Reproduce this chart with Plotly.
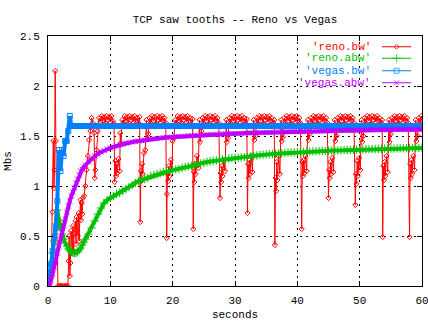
import plotly.graph_objects as go

# ---------------- data ----------------
# sample times (s) for the averaged series and vegas.bw
t_avg = [0, 0.25, 0.5, 0.75, 1, 1.25, 1.5, 1.75, 2, 2.25, 2.5, 2.75, 3, 3.25, 3.5, 3.75,
         4, 4.25, 4.5, 4.75, 5, 5.25, 5.5, 5.75, 6,
         6.5, 7, 7.5, 8, 8.5, 9, 9.5, 10, 10.5, 11, 11.5, 12, 12.5, 13, 13.5, 14, 14.5,
         15, 15.5, 16, 16.5, 17, 17.5, 18, 18.5, 19, 19.5, 20, 20.5, 21, 21.5, 22, 22.5,
         23, 23.5, 24, 24.5, 25, 25.5, 26, 26.5, 27, 27.5, 28, 28.5, 29, 29.5, 30, 30.5,
         31, 31.5, 32, 32.5, 33, 33.5, 34, 34.5, 35, 35.5, 36, 36.5, 37, 37.5, 38, 38.5,
         39, 39.5, 40, 40.5, 41, 41.5, 42, 42.5, 43, 43.5, 44, 44.5, 45, 45.5, 46, 46.5,
         47, 47.5, 48, 48.5, 49, 49.5, 50, 50.5, 51, 51.5, 52, 52.5, 53, 53.5, 54, 54.5,
         55, 55.5, 56, 56.5, 57, 57.5, 58, 58.5, 59, 59.5, 60]

reno_abw = [0, 0.08, 0.2, 0.33, 0.45, 0.62, 0.76, 0.66, 0.58, 0.52, 0.47, 0.43, 0.40, 0.37, 0.35, 0.34,
            0.33, 0.33, 0.33, 0.34, 0.36, 0.38, 0.41, 0.44, 0.47,
            0.52, 0.58, 0.65, 0.72, 0.78, 0.83, 0.86, 0.88, 0.90, 0.92, 0.93, 0.95, 0.97, 0.99, 1.01, 1.03, 1.05,
            1.06, 1.07, 1.08, 1.10, 1.11, 1.12, 1.13, 1.14, 1.15, 1.155, 1.16, 1.165, 1.17, 1.18, 1.19, 1.195,
            1.20, 1.21, 1.22, 1.225, 1.23, 1.24, 1.245, 1.25, 1.255, 1.26, 1.265, 1.27, 1.275, 1.28, 1.28, 1.283,
            1.286, 1.289, 1.29, 1.295, 1.30, 1.305, 1.31, 1.313, 1.316, 1.318, 1.32, 1.323, 1.325, 1.327, 1.33, 1.333,
            1.335, 1.337, 1.34, 1.341, 1.342, 1.344, 1.345, 1.346, 1.347, 1.349, 1.35, 1.351, 1.352, 1.354, 1.355, 1.356,
            1.357, 1.359, 1.36, 1.361, 1.362, 1.364, 1.365, 1.366, 1.367, 1.368, 1.37, 1.37, 1.371, 1.372, 1.373, 1.374,
            1.375, 1.375, 1.376, 1.377, 1.378, 1.378, 1.379, 1.38, 1.38, 1.38, 1.381]

vegas_abw = [0, 0.02, 0.06, 0.12, 0.19, 0.26, 0.33, 0.40, 0.47, 0.53, 0.60, 0.67, 0.74, 0.80, 0.85, 0.90,
             0.94, 0.98, 1.03, 1.07, 1.11, 1.15, 1.17, 1.19, 1.21,
             1.24, 1.27, 1.30, 1.32, 1.34, 1.355, 1.37, 1.38, 1.39, 1.40, 1.41, 1.42, 1.43, 1.435, 1.44, 1.445, 1.45,
             1.455, 1.46, 1.465, 1.47, 1.473, 1.476, 1.48, 1.483, 1.486, 1.488, 1.49, 1.493, 1.495, 1.497, 1.50, 1.502,
             1.504, 1.506, 1.508, 1.51, 1.512, 1.513, 1.515, 1.516, 1.518, 1.519, 1.52, 1.522, 1.523, 1.524, 1.525, 1.526,
             1.527, 1.528, 1.53, 1.531, 1.532, 1.533, 1.534, 1.535, 1.536, 1.537, 1.538, 1.539, 1.54, 1.541, 1.542, 1.543,
             1.544, 1.544, 1.545, 1.546, 1.547, 1.547, 1.548, 1.549, 1.55, 1.55, 1.551, 1.552, 1.552, 1.553, 1.554, 1.554,
             1.555, 1.556, 1.556, 1.557, 1.557, 1.558, 1.558, 1.559, 1.559, 1.56, 1.56, 1.561, 1.561, 1.562, 1.562, 1.562,
             1.563, 1.563, 1.564, 1.564, 1.564, 1.565, 1.565, 1.565, 1.566, 1.566, 1.566]

vegas_bw = [0, 0.10, 0.22, 0.35, 0.49, 0.58, 0.85, 1.36, 1.15, 1.36, 1.30, 1.45, 1.45, 1.55, 1.70, 1.60,
            1.60, 1.60, 1.60, 1.60, 1.60, 1.60, 1.60, 1.60, 1.60,
            1.6, 1.6, 1.6, 1.6, 1.6, 1.6, 1.6, 1.6, 1.6, 1.6, 1.6, 1.6, 1.6, 1.6, 1.6, 1.6, 1.6,
            1.6, 1.6, 1.6, 1.6, 1.6, 1.6, 1.6, 1.6, 1.6, 1.6, 1.6, 1.6, 1.6, 1.6, 1.6, 1.6,
            1.6, 1.6, 1.6, 1.6, 1.6, 1.6, 1.6, 1.6, 1.6, 1.6, 1.6, 1.6, 1.6, 1.6, 1.6, 1.6,
            1.6, 1.6, 1.6, 1.6, 1.6, 1.6, 1.6, 1.6, 1.6, 1.6, 1.6, 1.6, 1.6, 1.6, 1.6, 1.6,
            1.6, 1.6, 1.6, 1.6, 1.6, 1.6, 1.6, 1.6, 1.6, 1.6, 1.6, 1.6, 1.6, 1.6, 1.6, 1.6,
            1.6, 1.6, 1.6, 1.6, 1.6, 1.6, 1.6, 1.6, 1.6, 1.6, 1.6, 1.6, 1.6, 1.6, 1.6, 1.6,
            1.6, 1.6, 1.6, 1.6, 1.6, 1.6, 1.6, 1.6, 1.6, 1.6, 1.6]

# reno.bw: sample times and values (sawtooth)
reno_t = [
    0.0, 0.3, 0.5, 0.7, 0.85, 0.95, 1.05, 1.15, 1.25, 1.4, 1.6, 1.8, 2.0, 2.2, 2.4, 2.6, 2.8, 3.0, 3.2,
    3.3, 3.4, 3.5, 3.6, 3.7, 3.8, 3.9, 4.0, 4.1, 4.2, 4.4, 4.5, 4.6, 4.8, 4.9, 5.0, 5.1, 5.2, 5.3, 5.4,
    5.5, 5.6, 5.8, 6.0, 6.2, 6.4, 6.6, 6.8, 7.0, 7.2, 7.4, 7.5, 7.6, 7.8, 8.0, 8.2, 8.4, 8.6, 8.8, 9.0,
    9.2, 9.4, 9.6, 9.8, 10.0, 10.2, 10.4, 10.6,
    10.7, 10.8, 10.9, 11.0, 11.1, 11.3, 11.5, 11.6, 11.7, 11.9, 12.1, 12.3, 12.5, 12.7, 12.9, 13.1, 13.3, 13.5, 13.7, 13.9, 14.1, 14.3, 14.5, 14.7,
    14.8, 14.9, 15.0, 15.1, 15.2, 15.4, 15.6, 15.8, 15.9, 16.1, 16.3, 16.5, 16.7, 16.9, 17.1, 17.3, 17.5, 17.7, 17.9, 18.1, 18.3, 18.5, 18.7, 18.9,
    19.05, 19.1, 19.2, 19.3, 19.4, 19.5, 19.7, 19.9, 20.0, 20.2, 20.4, 20.6, 20.8, 21.0, 21.2, 21.4, 21.6, 21.8, 22.0, 22.2, 22.4, 22.6, 22.8, 23.0, 23.2,
    23.3, 23.4, 23.5, 23.6, 23.7, 23.9, 24.1, 24.3, 24.4, 24.6, 24.8, 25.0, 25.2, 25.4, 25.6, 25.8, 26.0, 26.2, 26.4, 26.6, 26.8, 27.0, 27.2, 27.4,
    27.6, 27.7, 27.8, 27.9, 28.0, 28.2, 28.4, 28.6, 28.7, 28.9, 29.1, 29.3, 29.5, 29.7, 29.9, 30.1, 30.3, 30.5, 30.7, 30.9, 31.1, 31.3, 31.5, 31.7, 31.9,
    32.0, 32.1, 32.2, 32.3, 32.4, 32.6, 32.8, 33.0, 33.1, 33.3, 33.5, 33.7, 33.9, 34.1, 34.3, 34.5, 34.7, 34.9, 35.1, 35.3, 35.5, 35.7, 35.9, 36.1, 36.3,
    36.4, 36.5, 36.6, 36.7, 36.8, 37.0, 37.2, 37.4, 37.5, 37.7, 37.9, 38.1, 38.3, 38.5, 38.7, 38.9, 39.1, 39.3, 39.5, 39.7, 39.9, 40.1, 40.3, 40.5,
    40.7, 40.8, 40.9, 41.0, 41.1, 41.3, 41.5, 41.7, 41.8, 42.0, 42.2, 42.4, 42.6, 42.8, 43.0, 43.2, 43.4, 43.6, 43.8, 44.0, 44.2, 44.4, 44.6, 44.8,
    45.0, 45.1, 45.2, 45.3, 45.4, 45.6, 45.8, 46.0, 46.1, 46.3, 46.5, 46.7, 46.9, 47.1, 47.3, 47.5, 47.7, 47.9, 48.1, 48.3, 48.5, 48.7, 48.9, 49.1,
    49.3, 49.4, 49.5, 49.6, 49.7, 49.9, 50.1, 50.3, 50.4, 50.6, 50.8, 51.0, 51.2, 51.4, 51.6, 51.8, 52.0, 52.2, 52.4, 52.6, 52.8, 53.0, 53.2, 53.4, 53.6,
    53.7, 53.8, 53.9, 54.0, 54.1, 54.3, 54.5, 54.7, 54.8, 55.0, 55.2, 55.4, 55.6, 55.8, 56.0, 56.2, 56.4, 56.6, 56.8, 57.0, 57.2, 57.4, 57.6, 57.8,
    58.0, 58.1, 58.2, 58.3, 58.4, 58.6, 58.8, 59.0, 59.1, 59.3, 59.5, 59.7, 59.9, 60.0,
]
reno_bw = [
    0.0, 0.02, 0.1, 0.74, 1.45, 0.98, 1.16, 2.15, 1.45, 0.6, 0.0, 0.0, 0.0, 0.0, 0.0, 0.0, 0.0, 0.0, 0.0,
    0.25, 0.5, 0.1, 0.23, 0.55, 0.39, 0.33, 0.6, 0.35, 0.53, 0.65, 0.42, 0.69, 0.5, 0.73, 0.45, 0.7, 0.86, 0.66, 0.83,
    0.72, 0.88, 0.9, 1.0, 1.16, 1.3, 1.46, 1.55, 1.68, 1.63, 1.53, 1.08, 1.16, 1.36, 1.55, 1.68, 1.64, 1.70, 1.65, 1.69,
    1.63, 1.70, 1.66, 1.69, 1.64, 1.70, 1.65, 1.62,
    1.04, 1.25, 1.10, 1.22, 1.13, 1.27, 1.15, 1.53, 1.43, 1.66, 1.63, 1.70, 1.65, 1.69, 1.63, 1.70, 1.66, 1.69, 1.64, 1.70, 1.65, 1.68, 1.63, 1.69,
    0.64, 1.15, 1.05, 1.22, 1.12, 1.33, 1.36, 1.66, 1.47, 1.52, 1.68, 1.63, 1.70, 1.65, 1.69, 1.62, 1.70, 1.66, 1.69, 1.64, 1.70, 1.65, 1.68, 1.63,
    0.48, 0.92, 1.12, 1.05, 1.20, 1.10, 1.26, 1.16, 1.45, 1.48, 1.66, 1.63, 1.70, 1.65, 1.69, 1.63, 1.70, 1.66, 1.69, 1.64, 1.70, 1.65, 1.68, 1.62, 1.67,
    0.57, 1.14, 1.04, 1.22, 1.12, 1.30, 1.18, 1.66, 1.44, 1.55, 1.68, 1.63, 1.70, 1.65, 1.69, 1.62, 1.70, 1.66, 1.69, 1.64, 1.70, 1.65, 1.68, 1.63,
    0.88, 1.13, 1.04, 1.20, 1.10, 1.26, 1.15, 1.66, 1.44, 1.48, 1.68, 1.63, 1.70, 1.65, 1.69, 1.62, 1.70, 1.66, 1.69, 1.64, 1.70, 1.65, 1.68, 1.63, 1.67,
    0.73, 1.22, 1.08, 1.26, 1.12, 1.30, 1.14, 1.66, 1.46, 1.50, 1.68, 1.63, 1.70, 1.65, 1.69, 1.62, 1.70, 1.66, 1.69, 1.64, 1.70, 1.65, 1.68, 1.63, 1.66,
    0.41, 1.08, 0.95, 1.24, 1.06, 1.30, 1.12, 1.66, 1.45, 1.49, 1.68, 1.63, 1.70, 1.65, 1.69, 1.62, 1.70, 1.66, 1.69, 1.64, 1.70, 1.65, 1.68, 1.63,
    0.57, 1.24, 1.10, 1.26, 1.13, 1.30, 1.15, 1.66, 1.46, 1.52, 1.68, 1.63, 1.70, 1.65, 1.69, 1.62, 1.70, 1.66, 1.69, 1.64, 1.70, 1.65, 1.68, 1.63,
    0.88, 1.16, 1.08, 1.24, 1.12, 1.28, 1.14, 1.66, 1.45, 1.50, 1.68, 1.63, 1.70, 1.65, 1.69, 1.62, 1.70, 1.66, 1.69, 1.64, 1.70, 1.65, 1.68, 1.63,
    0.81, 1.12, 1.02, 1.25, 1.10, 1.28, 1.16, 1.66, 1.44, 1.50, 1.68, 1.63, 1.70, 1.65, 1.69, 1.62, 1.70, 1.66, 1.69, 1.64, 1.70, 1.65, 1.68, 1.63, 1.66,
    0.49, 1.20, 1.06, 1.24, 1.10, 1.30, 1.14, 1.66, 1.44, 1.52, 1.68, 1.63, 1.70, 1.65, 1.69, 1.62, 1.70, 1.66, 1.69, 1.64, 1.70, 1.65, 1.68, 1.63,
    0.49, 1.22, 1.08, 1.26, 1.12, 1.30, 1.16, 1.66, 1.45, 1.50, 1.68, 1.63, 1.70, 1.65,
]

series_names = ["'reno.bw'", "'reno.abw'", "'vegas.bw'", "'vegas.abw'"]
x_ticks = [0, 10, 20, 30, 40, 50, 60]
y_ticks = [0, 0.5, 1, 1.5, 2, 2.5]

assert len(t_avg) == len(reno_abw) == len(vegas_abw) == len(vegas_bw), (
    len(t_avg), len(reno_abw), len(vegas_abw), len(vegas_bw))
assert len(reno_t) == len(reno_bw), (len(reno_t), len(reno_bw))

# ---------------- style ----------------
FONT = "Liberation Mono"
colors = ["#ff0000", "#00c000", "#0080ff", "#c000ff"]
symbols = ["diamond-open", "cross-thin-open", "square-open", "x-thin-open"]
msizes = [4, 6, 5, 5]
lwidths = [1, 4, 4, 4]

fig = go.Figure()
xs = [reno_t, t_avg, t_avg, t_avg]
ys = [reno_bw, reno_abw, vegas_bw, vegas_abw]
for i in range(4):
    fig.add_trace(go.Scatter(
        x=xs[i], y=ys[i], mode="lines+markers", name=series_names[i],
        line=dict(color=colors[i], width=lwidths[i]),
        marker=dict(symbol=symbols[i], size=msizes[i], color=colors[i],
                    line=dict(color=colors[i], width=1)),
        showlegend=False, cliponaxis=True,
    ))

# manual gnuplot-style key (text right-aligned, sample on the right)
key_rows = [0.957, 0.911, 0.861, 0.813]
key_text_x = 0.869
key_line = [0.893, 0.932, 0.971]
for i in range(4):
    fig.add_trace(go.Scatter(
        x=key_line, y=[key_rows[i]] * 3, xaxis="x2", yaxis="y2",
        mode="lines+markers", showlegend=False, hoverinfo="skip",
        line=dict(color=colors[i], width=1),
        marker=dict(symbol=symbols[i], size=[0, msizes[i], 0], color=colors[i],
                    line=dict(color=colors[i], width=1)),
    ))
    fig.add_annotation(x=key_text_x, y=key_rows[i], xref="paper", yref="paper",
                       text=series_names[i], showarrow=False, xanchor="right",
                       yanchor="middle", font=dict(family=FONT, size=11, color=colors[i]))

fig.add_shape(type="rect", xref="paper", yref="paper", x0=0.70, x1=0.985, y0=0.788, y1=1.0,
              fillcolor="white", line=dict(width=0), layer="between")

axis_common = dict(
    showgrid=True, gridcolor="#000000", gridwidth=1, griddash="2px,4px",
    showline=True, linecolor="#000000", linewidth=1, mirror="ticks",
    ticks="inside", ticklen=5, tickcolor="#000000", tickwidth=1,
    zeroline=False, tickfont=dict(family=FONT, size=11, color="#000000"),
    ticklabeloverflow="allow",
)
fig.update_layout(
    width=428, height=321,
    margin=dict(l=48, r=6, t=36, b=35, autoexpand=False),
    paper_bgcolor="white", plot_bgcolor="white",
    title=dict(text="TCP saw tooths -- Reno vs Vegas", x=0.5, xref="paper",
               xanchor="center", y=1 - 19 / 321, yref="container", yanchor="middle",
               font=dict(family=FONT, size=11, color="#000000")),
    xaxis=dict(range=[0, 60], tickvals=x_ticks, ticklabelstandoff=4,
               title=dict(text="seconds", standoff=4,
                          font=dict(family=FONT, size=11, color="#000000")),
               **axis_common),
    yaxis=dict(range=[0, 2.5], tickvals=y_ticks, ticklabelstandoff=5,
               title=dict(text="Mbs", standoff=6,
                          font=dict(family=FONT, size=11, color="#000000")),
               **axis_common),
    xaxis2=dict(range=[0, 1], overlaying="x", visible=False, fixedrange=True),
    yaxis2=dict(range=[0, 1], overlaying="y", visible=False, fixedrange=True),
    showlegend=False,
)

fig.write_html("out.html")
